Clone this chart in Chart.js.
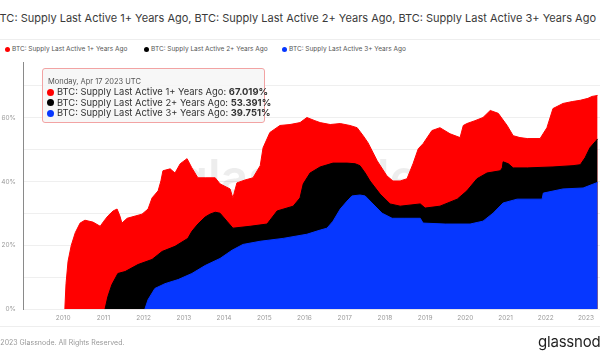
<!DOCTYPE html>
<html>
<head>
<meta charset="utf-8">
<script src="https://cdn.jsdelivr.net/npm/chart.js@4.4.1/dist/chart.umd.min.js"></script>
<style>
  html,body{margin:0;padding:0;background:#fff;}
  #wrap{position:relative;width:600px;height:360px;overflow:hidden;background:#fff;font-family:Inter,"Noto Sans",sans-serif;}
  #title{position:absolute;left:-7px;top:11px;font-size:11px;color:#3a3a3a;white-space:nowrap;}
  .sep{position:absolute;left:0;width:600px;height:1px;background:#eeeeee;}
  #legend{position:absolute;top:45px;left:0;width:600px;height:10px;font-size:6.5px;color:#555;}
  .li{position:absolute;top:0;white-space:nowrap;line-height:8px;}
  .dot{display:inline-block;width:5px;height:5px;border-radius:50%;margin-right:2px;vertical-align:-0.5px;}
  #c{position:absolute;left:0;top:0;}
  #tip{position:absolute;left:42px;top:68px;width:221px;height:53px;background:rgba(246,246,246,0.88);border:1px solid #f2a3a3;border-radius:3px;}
  #tip .t{position:absolute;left:5px;top:8px;font-size:7.5px;color:#555;white-space:nowrap;}
  #tip .r{position:absolute;left:4px;font-size:9.4px;color:#333;white-space:nowrap;line-height:10px;}
  #tip .r b{font-weight:700;}
  #tip .cd{display:inline-block;width:7px;height:7px;border-radius:50%;margin-right:3px;vertical-align:-0.5px;}
  #copy{position:absolute;left:-8px;top:338px;font-size:7px;color:#999;white-space:nowrap;}
  #logo{position:absolute;left:538px;top:332px;font-size:15px;color:#1e1e1e;white-space:nowrap;letter-spacing:-0.2px;}
</style>
</head>
<body>
<div id="wrap">
  <div id="title">BTC: Supply Last Active 1+ Years Ago, BTC: Supply Last Active 2+ Years Ago, BTC: Supply Last Active 3+ Years Ago</div>
  <div class="sep" style="top:39px"></div>
  <div id="legend"></div>
  <canvas id="c" width="600" height="360"></canvas>
  <div id="tip"></div>
  <div class="sep" style="top:326px"></div>
  <div id="copy">© 2023 Glassnode. All Rights Reserved.</div>
  <div id="logo">glassnode</div>
</div>
<script>
// ---- data (decimal years, percent) ----
const seriesNames = [
  "BTC: Supply Last Active 1+ Years Ago",
  "BTC: Supply Last Active 2+ Years Ago",
  "BTC: Supply Last Active 3+ Years Ago"
];
const seriesColors = ["#ff0000", "#000000", "#0637ff"];

const years1 = [2010.04,2010.07,2010.12,2010.2,2010.3,2010.42,2010.54,2010.74,2010.92,2011.01,2011.11,2011.24,2011.34,2011.41,2011.46,2011.59,2011.79,2011.96,2012.11,2012.21,2012.36,2012.43,2012.48,2012.66,2012.78,2012.91,2013.08,2013.2,2013.35,2013.53,2013.78,2013.9,2014.15,2014.22,2014.32,2014.52,2014.72,2014.9,2014.97,2015.14,2015.39,2015.64,2015.89,2016.06,2016.26,2016.39,2016.64,2016.89,2017.13,2017.31,2017.46,2017.58,2017.81,2018.05,2018.2,2018.38,2018.55,2018.7,2018.83,2018.95,2019.17,2019.37,2019.62,2019.87,2019.95,2020.04,2020.24,2020.44,2020.62,2020.82,2021.04,2021.19,2021.36,2021.54,2021.86,2022.03,2022.18,2022.43,2022.66,2022.86,2023.05,2023.15,2023.29];
const values1 = [0,8,15,20,24,27,27.9,27.3,26.0,27.6,29.2,30.8,31.4,29.2,27.0,28.5,29.2,29.8,31.4,34.9,37.1,40.2,43.4,44.0,42.7,45.6,47.2,44.3,41.2,41.2,41.2,39.3,37.7,34.9,39.6,40.5,41.2,45.0,50.6,55.4,57.6,57.9,58.5,60.1,59.1,58.5,57.9,58.2,57.6,56.9,54.4,52.2,46.5,41.8,40.2,40.2,40.9,45.6,50.3,51.9,56.0,56.9,55.0,53.8,57.6,58.2,59.1,60.1,62.3,61.4,57.6,54.4,53.8,53.5,53.5,56.9,62.9,64.5,65.1,65.5,66.1,66.7,67.019];

const years2 = [2011.04,2011.11,2011.21,2011.36,2011.54,2011.86,2012.21,2012.46,2012.78,2013.1,2013.2,2013.35,2013.53,2013.65,2013.78,2013.9,2014.07,2014.22,2014.65,2015.07,2015.32,2015.72,2015.89,2015.97,2016.14,2016.39,2016.71,2017.06,2017.26,2017.38,2017.51,2017.63,2017.88,2018.13,2018.38,2018.88,2019.0,2019.37,2019.8,2020.04,2020.29,2020.54,2020.87,2020.92,2020.94,2021.07,2021.19,2021.54,2022.18,2022.68,2022.86,2022.98,2023.1,2023.23,2023.29];
const values2 = [0,3.9,7.7,11.2,11.8,14.0,15.6,18.1,19.7,22.2,24.4,26.7,28.9,29.8,30.4,30.1,27.6,25.4,26.0,26.7,30.8,32.3,34.9,39.3,42.7,44.6,45.8,45.8,45.6,45.0,42.7,40.2,36.1,33.0,32.3,33.0,31.7,32.3,34.5,37.1,40.9,42.7,43.4,44.3,46.2,45.6,44.3,44.3,44.6,45.0,45.3,47.5,50.6,52.5,53.391];

const years3 = [2012.03,2012.11,2012.28,2012.53,2012.86,2013.2,2013.53,2013.9,2014.2,2014.47,2014.9,2015.47,2016.06,2016.39,2016.56,2016.71,2016.89,2017.06,2017.18,2017.38,2017.51,2017.68,2017.93,2018.18,2018.5,2018.88,2018.95,2019.5,2020.12,2020.44,2020.69,2020.94,2021.29,2021.61,2021.91,2021.94,2022.43,2022.93,2023.29];
const values3 = [0,3,6.5,8.0,9.3,11.2,13.7,15.9,18.5,20.3,21.3,22.2,23.5,24.8,25.4,27.6,31.4,33.9,35.5,35.8,35.5,33.3,30.1,28.5,28.5,28.5,27.0,26.7,26.7,27.6,30.1,33.3,34.5,34.5,34.5,36.4,37.7,38.0,39.751];

const tooltipDate = "Monday, Apr 17 2023 UTC";
const yearTicks = [2010,2011,2012,2013,2014,2015,2016,2017,2018,2019,2020,2021,2022,2023];
const yLabelTicks = [0,20,40,60];

// ---- legend & tooltip (text) ----
const legendLefts = [5, 144, 282];
const legend = document.getElementById('legend');
seriesNames.forEach((n,i)=>{
  const d=document.createElement('div'); d.className='li'; d.style.left=legendLefts[i]+'px';
  d.innerHTML='<span class="dot" style="background:'+seriesColors[i]+'"></span>'+n;
  legend.appendChild(d);
});
const lastVals=[values1[values1.length-1],values2[values2.length-1],values3[values3.length-1]];
const tip=document.getElementById('tip');
let h='<div class="t">'+tooltipDate+'</div>';
seriesNames.forEach((n,i)=>{
  h+='<div class="r" style="top:'+(18+i*10.5)+'px"><span class="cd" style="background:'+seriesColors[i]+'"></span>'+n+': <b>'+lastVals[i].toFixed(3)+'%</b></div>';
});
tip.innerHTML=h;

const toXY=(xs,ys)=>xs.map((x,i)=>({x:x,y:ys[i]}));

const watermark={
  id:'watermark',
  beforeDatasetsDraw(chart){
    const c=chart.ctx; c.save();
    c.font='600 48px Inter, sans-serif'; c.fillStyle='rgba(0,0,0,0.07)';
    c.textAlign='center'; c.textBaseline='middle';
    c.fillText('glassnode',298,180); c.restore();
  }
};

new Chart(document.getElementById('c'),{
  type:'line',
  data:{datasets:[
    {label:seriesNames[0],data:toXY(years1,values1),borderColor:seriesColors[0],backgroundColor:seriesColors[0],fill:'origin',order:3},
    {label:seriesNames[1],data:toXY(years2,values2),borderColor:seriesColors[1],backgroundColor:seriesColors[1],fill:'origin',order:2},
    {label:seriesNames[2],data:toXY(years3,values3),borderColor:seriesColors[2],backgroundColor:seriesColors[2],fill:'origin',order:1}
  ]},
  options:{
    responsive:false,animation:false,
    elements:{point:{radius:0},line:{borderWidth:1,tension:0}},
    layout:{padding:{top:62,bottom:33,left:0,right:0}},
    plugins:{legend:{display:false},tooltip:{enabled:false},title:{display:false}},
    scales:{
      x:{type:'linear',min:2009.0,max:2023.35,
        grid:{display:false,drawTicks:false},border:{display:false},
        afterBuildTicks(s){s.ticks=yearTicks.map(v=>({value:v}));},
        ticks:{autoSkip:false,maxRotation:0,padding:5,color:'#9a9a9a',font:{size:6.5,family:'Inter'},callback:v=>String(v)}},
      y:{min:0,max:77.5,
        afterFit(s){s.width=23;},
        grid:{color:'#efefef',drawTicks:false},
        border:{display:true,color:'#8a8a8a',width:1},
        afterBuildTicks(s){s.ticks=[0,10,20,30,40,50,60,70].map(v=>({value:v}));},
        ticks:{padding:7,color:'#9a9a9a',font:{size:6.5,family:'Inter'},callback:v=>yLabelTicks.includes(v)?v+'%':''}}
    }
  },
  plugins:[watermark]
});
</script>
</body>
</html>
